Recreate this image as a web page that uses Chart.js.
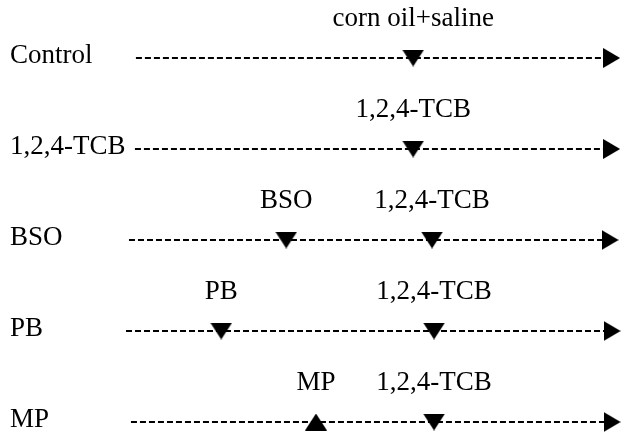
<!DOCTYPE html>
<html>
<head>
<meta charset="utf-8">
<script src="https://cdn.jsdelivr.net/npm/chart.js@4.4.1/dist/chart.umd.min.js"></script>
<style>
  html, body { margin: 0; padding: 0; background: #ffffff; }
  #wrap { width: 622px; height: 432px; position: relative; }
</style>
</head>
<body>
<div id="wrap"><canvas id="c"></canvas></div>
<script>
// ---- data (timeline positions in arbitrary time units, 0..100) ----
const rowLabels   = ['Control', '1,2,4-TCB', 'BSO', 'PB', 'MP'];
const startX      = [2.0, 1.8, 0.6, 0.0, 1.0];
const endX        = [97.9, 97.9, 97.6, 98.0, 98.0];
const eventX      = [[57.9], [57.9], [32.3, 61.7], [19.2, 62.1], [38.3, 62.1]];
const eventLabels = [['corn oil+saline'], ['1,2,4-TCB'], ['BSO', '1,2,4-TCB'], ['PB', '1,2,4-TCB'], ['MP', '1,2,4-TCB']];
const eventMarker = [['down'], ['down'], ['down', 'down'], ['down', 'down'], ['up', 'down']];

// ---- marker glyphs ----
function makeTri(w, h, dir) {
  const c = document.createElement('canvas');
  c.width = w; c.height = h;
  const g = c.getContext('2d');
  g.fillStyle = '#000';
  g.beginPath();
  if (dir === 'down') { g.moveTo(0, 0); g.lineTo(w, 0); g.lineTo(w / 2, h); }
  else if (dir === 'up') { g.moveTo(0, h); g.lineTo(w, h); g.lineTo(w / 2, 0); }
  else { g.moveTo(0, 0); g.lineTo(w, h / 2); g.lineTo(0, h); }
  g.closePath();
  g.fill();
  return c;
}
const glyphs = {
  down: makeTri(22, 17, 'down'),
  up: makeTri(22, 17, 'up'),
  right: makeTri(17, 20, 'right')
};

const FONT = 'Liberation Serif, "Times New Roman", serif';

const datasets = rowLabels.map((row, i) => {
  const pts = [{ x: startX[i], y: row }];
  const styles = [false];
  const radii = [0];
  eventX[i].forEach((ex, j) => {
    pts.push({ x: ex, y: row });
    styles.push(glyphs[eventMarker[i][j]]);
    radii.push(8);
  });
  pts.push({ x: endX[i], y: row });
  styles.push(glyphs.right);
  radii.push(8);
  return {
    label: row,
    data: pts,
    borderColor: '#000',
    borderWidth: 1.8,
    borderDash: [6, 3],
    pointStyle: styles,
    pointRadius: radii,
    pointHoverRadius: radii,
    pointBackgroundColor: '#000',
    pointBorderWidth: 0,
    showLine: true,
    fill: false,
    tension: 0,
    clip: false
  };
});

const eventTextPlugin = {
  id: 'eventText',
  afterDatasetsDraw(chart) {
    const { ctx, scales } = chart;
    ctx.save();
    ctx.fillStyle = '#000';
    ctx.font = '27px ' + FONT;
    ctx.textAlign = 'center';
    ctx.textBaseline = 'middle';
    rowLabels.forEach((row, i) => {
      const y = scales.y.getPixelForValue(i) - 39;
      eventX[i].forEach((ex, j) => {
        const x = scales.x.getPixelForValue(ex);
        ctx.fillText(eventLabels[i][j], x, y);
      });
    });
    ctx.restore();
  }
};

new Chart(document.getElementById('c'), {
  type: 'line',
  data: { labels: rowLabels, datasets },
  options: {
    responsive: true,
    maintainAspectRatio: false,
    animation: false,
    events: [],
    layout: { autoPadding: false, padding: { top: 58, bottom: 10, left: 10, right: 0 } },
    plugins: { legend: { display: false }, tooltip: { enabled: false } },
    scales: {
      x: { type: 'linear', min: 0, max: 100, display: false },
      y: {
        type: 'category',
        labels: rowLabels,
        offset: false,
        grid: { display: false, drawTicks: false },
        border: { display: false },
        ticks: {
          color: '#000',
          font: { family: FONT, size: 27 },
          crossAlign: 'far',
          padding: 0,
          labelOffset: -2
        },
        afterFit(scale) {
          scale.width = 116;
          scale.paddingTop = 0;
          scale.paddingBottom = 0;
        }
      }
    }
  },
  plugins: [eventTextPlugin]
});
</script>
</body>
</html>
